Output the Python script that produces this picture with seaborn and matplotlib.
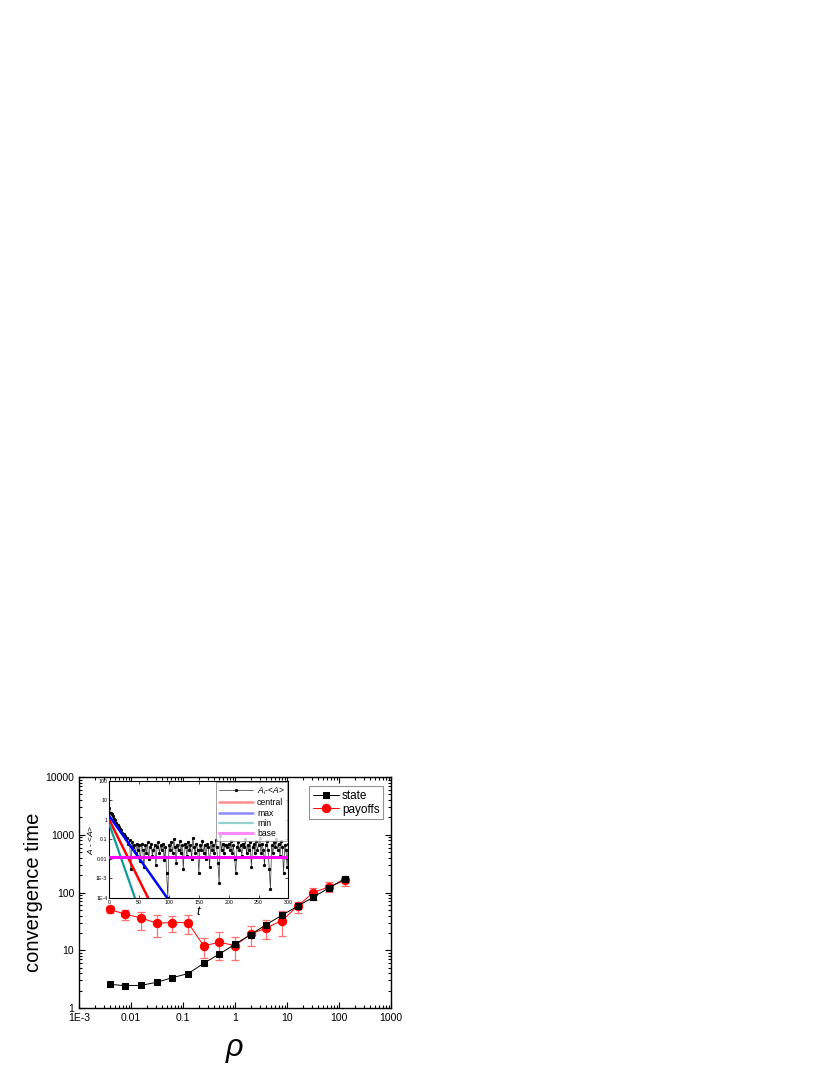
import numpy as np
import pandas as pd
import matplotlib
matplotlib.use("Agg")
import matplotlib.pyplot as plt
import seaborn as sns
from matplotlib.ticker import FixedLocator, LogLocator, NullFormatter

# ---------------- data ----------------
rho = [2**-8, 2**-7, 2**-6, 2**-5, 2**-4, 2**-3, 2**-2, 2**-1,
       1, 2, 4, 8, 16, 32, 64, 128]
state = [2.57, 2.44, 2.47, 2.79, 3.36, 3.94, 5.95, 8.6,
         12.7, 18.7, 27.9, 40.5, 58, 83, 120, 173]
payoffs = [51, 42, 36.3, 29.4, 30.2, 30, 11.9, 13.8,
           12, 19, 24.4, 32.7, 58, 100, 125, 162]
payoffs_low = [43.8, 34, 22.8, 17, 20.8, 18.9, 7.4, 6.9,
               6.9, 11.9, 15.9, 17.7, 44.4, 75.6, 101, 132]
payoffs_high = [58.7, 49.4, 46.2, 41, 39.9, 41.5, 16.6, 20.8,
                16.9, 26.1, 34, 48.1, 69.8, 122, 151, 187]

main_xticks = [1e-3, 1e-2, 1e-1, 1, 10, 100, 1000]
main_xticklabels = ["1E-3", "0.01", "0.1", "1", "10", "100", "1000"]
main_yticks = [1, 10, 100, 1000, 10000]
main_yticklabels = ["1", "10", "100", "1000", "10000"]

# inset data
t_vals = list(range(0, 301, 2))
a_dev = [4.0, 2.4, 2.0, 1.6, 1.1, 1.0, 0.7, 0.55, 0.45, 0.35, 0.3, 0.22, 0.18,
         0.15, 0.1, 0.12, 0.06, 0.09, 0.003, 0.07, 0.04, 0.05, 0.02, 0.06, 0.03,
         0.05, 0.008, 0.06, 0.03, 0.004, 0.05, 0.02, 0.07, 0.01, 0.04, 0.06, 0.015,
         0.03, 0.05, 0.005, 0.04, 0.07, 0.02, 0.05, 0.03, 0.06, 0.009, 0.04, 0.002, 0.0001,
         0.05, 0.03, 0.07, 0.02, 0.1, 0.04, 0.006, 0.05, 0.03, 0.08, 0.02, 0.05,
         0.003, 0.06, 0.04, 0.015, 0.07, 0.03, 0.05, 0.01, 0.12, 0.04, 0.02, 0.06, 0.03,
         0.002, 0.05, 0.03, 0.08, 0.02, 0.05, 0.01, 0.06, 0.04, 0.004, 0.07, 0.03,
         0.05, 0.02, 0.09, 0.04, 0.006, 0.0006, 0.15, 0.03, 0.06, 0.02, 0.05, 0.05, 0.04,
         0.06, 0.03, 0.08, 0.02, 0.05, 0.01, 0.002, 0.04, 0.07, 0.03, 0.05, 0.015,
         0.06, 0.04, 0.1, 0.02, 0.05, 0.03, 0.07, 0.004, 0.04, 0.06, 0.02, 0.08, 0.03,
         0.05, 0.12, 0.02, 0.06, 0.03, 0.005, 0.05, 0.08, 0.03, 0.003, 0.0003, 0.05,
         0.02, 0.07, 0.04, 0.1, 0.03, 0.06, 0.015, 0.08, 0.04, 0.002, 0.05, 0.03, 0.004, 0.06]

central_t = [0, 65]
central_v = [1.0, 1e-4]
max_t = [0, 97]
max_v = [1.6, 1e-4]
min_t = [0, 43]
min_v = [0.6, 1e-4]
base_t = [0, 300]
base_v = [0.012, 0.012]

inset_yticks = [1e-4, 1e-3, 1e-2, 1e-1, 1, 10, 100]
inset_yticklabels = ["1E-4", "1E-3", "0.01", "0.1", "1", "10", "100"]
inset_xticks = [0, 50, 100, 150, 200, 250, 300]

# ---------------- style ----------------
sns.set_theme(style="ticks")
plt.rcParams["font.family"] = ["Liberation Sans", "DejaVu Sans"]
plt.rcParams["mathtext.fontset"] = "custom"
plt.rcParams["mathtext.it"] = "Liberation Sans:italic"
plt.rcParams["mathtext.rm"] = "Liberation Sans"
plt.rcParams["text.color"] = "black"
plt.rcParams["axes.labelcolor"] = "black"
plt.rcParams["xtick.color"] = "black"
plt.rcParams["ytick.color"] = "black"

fig = plt.figure(figsize=(8.3, 10.75), dpi=100)
ax = fig.add_axes([0.0952, 0.0623, 0.3759, 0.2149])

df_main = pd.DataFrame({"rho": rho, "state": state, "payoffs": payoffs})

# error bars for payoffs
yerr = [np.array(payoffs) - np.array(payoffs_low),
        np.array(payoffs_high) - np.array(payoffs)]
ax.errorbar(rho, payoffs, yerr=yerr, fmt="none", ecolor="#ff7070",
            elinewidth=0.9, capsize=2.6, capthick=0.9, zorder=2)

sns.lineplot(data=df_main, x="rho", y="state", ax=ax, color="black",
             marker="s", markersize=4.9, markeredgecolor="black",
             linewidth=0.7, label="state", zorder=4)
sns.lineplot(data=df_main, x="rho", y="payoffs", ax=ax, color="red",
             marker="o", markersize=6, markeredgecolor="red",
             linewidth=0.7, label="payoffs", zorder=3)

ax.set_xscale("log")
ax.set_yscale("log")
ax.set_xlim(1e-3, 1000)
ax.set_ylim(1, 10000)
ax.xaxis.set_major_locator(FixedLocator(main_xticks))
ax.set_xticklabels(main_xticklabels)
ax.yaxis.set_major_locator(FixedLocator(main_yticks))
ax.set_yticklabels(main_yticklabels)
ax.xaxis.set_minor_locator(LogLocator(base=10, subs=np.arange(2, 10)))
ax.yaxis.set_minor_locator(LogLocator(base=10, subs=np.arange(2, 10)))
ax.xaxis.set_minor_formatter(NullFormatter())
ax.yaxis.set_minor_formatter(NullFormatter())
ax.tick_params(which="both", direction="in", top=True, right=True,
               labelsize=7.5, width=0.8, colors="black")
ax.tick_params(which="major", length=4)
ax.tick_params(which="minor", length=2)
for s in ax.spines.values():
    s.set_linewidth(1.0)
    s.set_color("black")
ax.set_xlabel(r"$\rho$", fontsize=22, labelpad=9, color="black")
ax.set_ylabel("convergence time", fontsize=14.5, labelpad=2, color="black")

leg = ax.legend(loc="upper right", bbox_to_anchor=(0.975, 0.96), fontsize=8.5,
                frameon=True, fancybox=False, edgecolor="#777777",
                handlelength=2.2, handletextpad=0.3, borderpad=0.3,
                labelspacing=0.15, borderaxespad=0)
leg.get_frame().set_linewidth(0.8)
for txt in leg.get_texts():
    txt.set_color("black")

# ---------------- inset ----------------
ins = fig.add_axes([0.1317, 0.1647, 0.2157, 0.1088])
df_in = pd.DataFrame({"t": t_vals, "a": a_dev})
sns.lineplot(data=df_in, x="t", y="a", ax=ins, color="#333333", linewidth=0.5,
             marker="o", markersize=1.6, markeredgecolor="black",
             markerfacecolor="black", label=r"$A_i$-<$A$>", zorder=3)
sns.lineplot(x=central_t, y=central_v, ax=ins, color="red", linewidth=1.8,
             label="central", zorder=4)
sns.lineplot(x=max_t, y=max_v, ax=ins, color="blue", linewidth=1.8,
             label="max", zorder=4)
sns.lineplot(x=min_t, y=min_v, ax=ins, color="#129a9a", linewidth=1.6,
             label="min", zorder=4)
sns.lineplot(x=base_t, y=base_v, ax=ins, color="#ff00ff", linewidth=2.2,
             label="base", zorder=5)

ins.set_yscale("log")
ins.set_xlim(0, 300)
ins.set_ylim(1e-4, 100)
ins.xaxis.set_major_locator(FixedLocator(inset_xticks))
ins.set_xticklabels([str(v) for v in inset_xticks])
ins.yaxis.set_major_locator(FixedLocator(inset_yticks))
ins.set_yticklabels(inset_yticklabels)
ins.yaxis.set_minor_locator(FixedLocator([]))
ins.tick_params(which="both", direction="in", top=True, right=True,
                labelsize=3.8, length=2, width=0.5, pad=1.5, colors="black")
for s in ins.spines.values():
    s.set_linewidth(0.8)
    s.set_color("black")
ins.set_xlabel(r"$t$", fontsize=9, labelpad=0, color="black")
ins.set_ylabel(r"$A$ - <$A$>", fontsize=6, labelpad=1, color="black")

lg2 = ins.legend(loc="upper right", fontsize=6.2, frameon=True, fancybox=False,
                 edgecolor="#777777", handlelength=4.0, handletextpad=0.4,
                 borderpad=0.3, labelspacing=0.15, borderaxespad=0.1)
lg2.get_frame().set_linewidth(0.6)
for h in lg2.get_lines()[1:]:
    h.set_alpha(0.45)
for txt in lg2.get_texts():
    txt.set_color("black")

fig.savefig("out.png", dpi=100, facecolor="white")
